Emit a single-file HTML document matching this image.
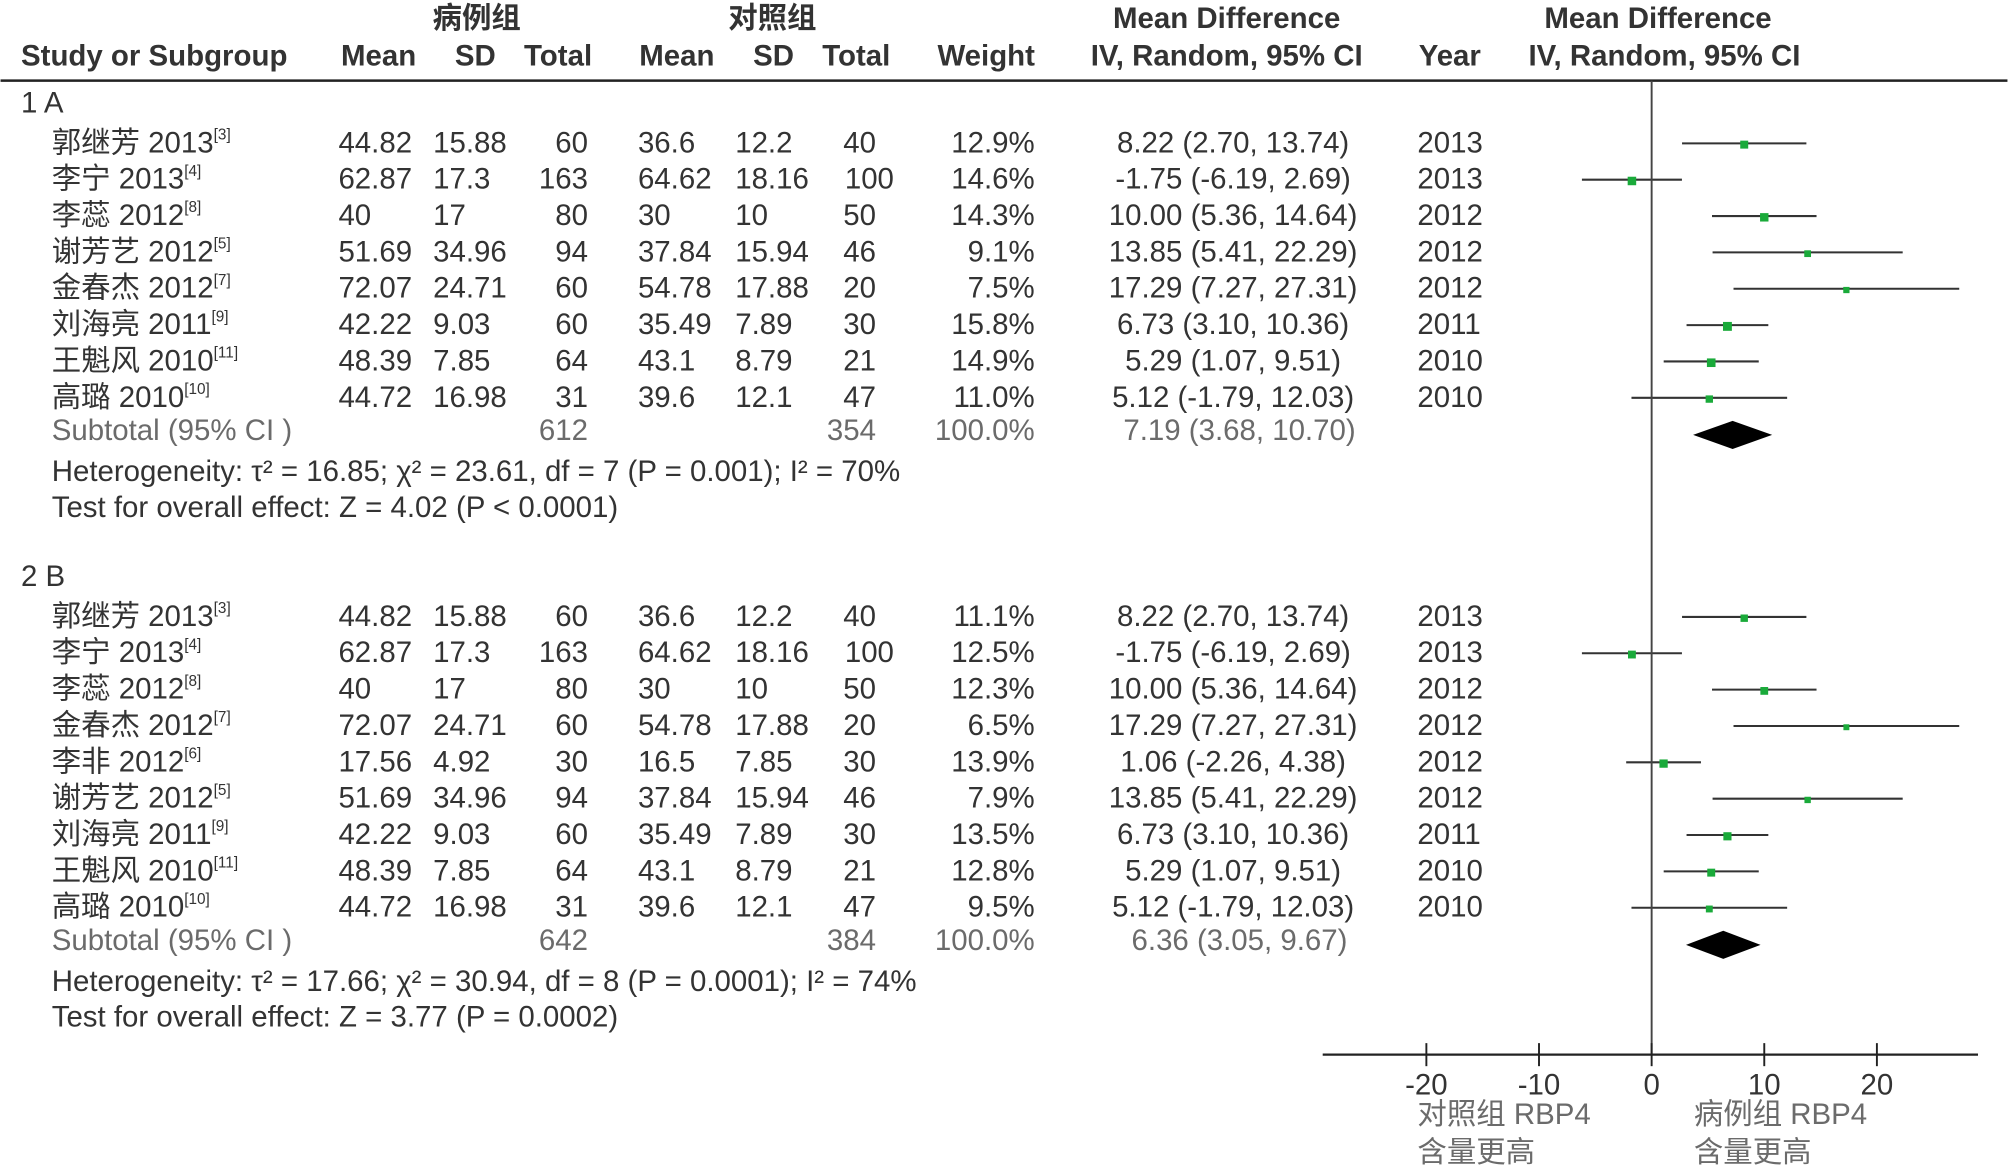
<!DOCTYPE html>
<html><head><meta charset="utf-8">
<style>
html,body{margin:0;padding:0;background:#fff;}
svg{display:block;}
text{font-family:"Liberation Sans Narrow","Liberation Sans","Noto Sans CJK SC",sans-serif;fill:#333;}
.h{font-weight:bold;font-size:23px;}
.r{font-size:23px;}
.g{fill:#6b6b6b;}
</style></head>
<body>
<svg id="chart" width="2008" height="1166" viewBox="0 0 1568 911" xmlns="http://www.w3.org/2000/svg">
<g>
<text class="h" x="372" y="22" text-anchor="middle">病例组</text>
<text class="h" x="603" y="22" text-anchor="middle">对照组</text>
<text class="h" x="958" y="22" text-anchor="middle">Mean Difference</text>
<text class="h" x="1295" y="22" text-anchor="middle">Mean Difference</text>
<text class="h" x="16" y="51">Study or Subgroup</text>
<text class="h" x="266" y="51">Mean</text>
<text class="h" x="355" y="51">SD</text>
<text class="h" x="409" y="51">Total</text>
<text class="h" x="499" y="51">Mean</text>
<text class="h" x="588" y="51">SD</text>
<text class="h" x="642" y="51">Total</text>
<text class="h" x="732" y="51">Weight</text>
<text class="h" x="958" y="51" text-anchor="middle">IV, Random, 95% CI</text>
<text class="h" x="1108" y="51">Year</text>
<text class="h" x="1300" y="51" text-anchor="middle">IV, Random, 95% CI</text>
</g>
<line x1="0" y1="63" x2="1568" y2="63" stroke="#222" stroke-width="2"/>
<g id="rows"></g>
<g id="plot"></g>
</svg>
<script>
const namesA=["郭继芳 2013","李宁 2013","李蕊 2012","谢芳艺 2012","金春杰 2012","刘海亮 2011","王魁风 2010","高璐 2010"];
const refsA=["[3]","[4]","[8]","[5]","[7]","[9]","[11]","[10]"];
const mean1A=["44.82","62.87","40","51.69","72.07","42.22","48.39","44.72"];
const sd1A=["15.88","17.3","17","34.96","24.71","9.03","7.85","16.98"];
const n1A=["60","163","80","94","60","60","64","31"];
const mean2A=["36.6","64.62","30","37.84","54.78","35.49","43.1","39.6"];
const sd2A=["12.2","18.16","10","15.94","17.88","7.89","8.79","12.1"];
const n2A=["40","100","50","46","20","30","21","47"];
const weightA=[12.9,14.6,14.3,9.1,7.5,15.8,14.9,11.0];
const mdA=[8.22,-1.75,10.00,13.85,17.29,6.73,5.29,5.12];
const loA=[2.70,-6.19,5.36,5.41,7.27,3.10,1.07,-1.79];
const hiA=[13.74,2.69,14.64,22.29,27.31,10.36,9.51,12.03];
const yearA=["2013","2013","2012","2012","2012","2011","2010","2010"];
const subA={n1:"612",n2:"354",md:7.19,lo:3.68,hi:10.70};

const namesB=["郭继芳 2013","李宁 2013","李蕊 2012","金春杰 2012","李非 2012","谢芳艺 2012","刘海亮 2011","王魁风 2010","高璐 2010"];
const refsB=["[3]","[4]","[8]","[7]","[6]","[5]","[9]","[11]","[10]"];
const mean1B=["44.82","62.87","40","72.07","17.56","51.69","42.22","48.39","44.72"];
const sd1B=["15.88","17.3","17","24.71","4.92","34.96","9.03","7.85","16.98"];
const n1B=["60","163","80","60","30","94","60","64","31"];
const mean2B=["36.6","64.62","30","54.78","16.5","37.84","35.49","43.1","39.6"];
const sd2B=["12.2","18.16","10","17.88","7.85","15.94","7.89","8.79","12.1"];
const n2B=["40","100","50","20","30","46","30","21","47"];
const weightB=[11.1,12.5,12.3,6.5,13.9,7.9,13.5,12.8,9.5];
const mdB=[8.22,-1.75,10.00,17.29,1.06,13.85,6.73,5.29,5.12];
const loB=[2.70,-6.19,5.36,7.27,-2.26,5.41,3.10,1.07,-1.79];
const hiB=[13.74,2.69,14.64,27.31,4.38,22.29,10.36,9.51,12.03];
const yearB=["2013","2013","2012","2012","2012","2012","2011","2010","2010"];
const subB={n1:"642",n2:"384",md:6.36,lo:3.05,hi:9.67};

const ticks=[-20,-10,0,10,20];
const tickLabels=["-20","-10","0","10","20"];

const NS="http://www.w3.org/2000/svg";
const rows=document.getElementById('rows'), plot=document.getElementById('plot');
const xs=v=>1290+v*8.8;
function mk(tag,attrs,parent){const e=document.createElementNS(NS,tag);for(const k in attrs)e.setAttribute(k,attrs[k]);parent.appendChild(e);return e;}
function txt(s,x,y,anchor,cls,parent,name){const t=mk('text',{x:x,y:y,'text-anchor':anchor,'class':cls},parent);t.textContent=s;


return t;}
const f2=v=>v.toFixed(2);

function group(label,y0,names,refs,m1,s1,n1,m2,s2,n2,w,md,lo,hi,yr,sub,het,test){
  txt(label,16,y0,'start','r',rows,'subgroup-label');
  let y=y0;
  for(let i=0;i<names.length;i++){
    y=y0+31+i*28.4;
    const t=txt(names[i],40,y,'start','r',rows,'study-name');
    const sp=document.createElementNS(NS,'tspan');sp.setAttribute('font-size','12');sp.setAttribute('dy','-10');sp.textContent=refs[i];t.appendChild(sp);
    txt(m1[i],264,y,'start','r',rows,'case-mean');
    txt(s1[i],338,y,'start','r',rows,'case-sd');
    txt(n1[i],459,y,'end','r',rows,'case-total');
    txt(m2[i],498,y,'start','r',rows,'control-mean');
    txt(s2[i],574,y,'start','r',rows,'control-sd');
    txt(n2[i],n2[i].length>2?698:684,y,'end','r',rows,'control-total');
    txt(w[i].toFixed(1)+'%',808,y,'end','r',rows,'weight');
    txt(f2(md[i])+' ('+f2(lo[i])+', '+f2(hi[i])+')',963,y,'middle','r',rows,'ci-text');
    txt(yr[i],1107,y,'start','r',rows,'year');
    const cy=y-7;
    const l=mk('line',{x1:xs(lo[i]),x2:xs(hi[i]),y1:cy,y2:cy,stroke:'#333','stroke-width':1.6},plot);
    
    
    const sz=3+w[i]*0.25;
    const r=mk('rect',{x:xs(md[i])-sz/2,y:cy-sz/2+1,width:sz,height:sz,fill:'#1aaa3a'},plot);
    
    
  }
  const ys=y+26;
  txt('Subtotal (95% CI )',40,ys,'start','r g',rows,'subtotal-label');
  txt(sub.n1,459,ys,'end','r g',rows,'subtotal-case-total');
  txt(sub.n2,684,ys,'end','r g',rows,'subtotal-control-total');
  txt('100.0%',808,ys,'end','r g',rows,'subtotal-weight');
  txt(f2(sub.md)+' ('+f2(sub.lo)+', '+f2(sub.hi)+')',968,ys,'middle','r g',rows,'subtotal-ci');
  const dy=ys-4;
  const d=mk('polygon',{points:`${xs(sub.lo)},${dy} ${xs(sub.md)},${dy-11} ${xs(sub.hi)},${dy} ${xs(sub.md)},${dy+11}`,fill:'#000'},plot);
  
  
  txt(het,40,ys+32,'start','r',rows,'heterogeneity-text');
  txt(test,40,ys+60,'start','r',rows,'overall-effect-text');
}
group('1 A',88,namesA,refsA,mean1A,sd1A,n1A,mean2A,sd2A,n2A,weightA,mdA,loA,hiA,yearA,subA,
 'Heterogeneity: τ² = 16.85; χ² = 23.61, df = 7 (P = 0.001); I² = 70%','Test for overall effect: Z = 4.02 (P < 0.0001)');
group('2 B',458,namesB,refsB,mean1B,sd1B,n1B,mean2B,sd2B,n2B,weightB,mdB,loB,hiB,yearB,subB,
 'Heterogeneity: τ² = 17.66; χ² = 30.94, df = 8 (P = 0.0001); I² = 74%','Test for overall effect: Z = 3.77 (P = 0.0002)');

// axes
let e=mk('line',{x1:xs(0),x2:xs(0),y1:63,y2:824,stroke:'#444','stroke-width':1.5},plot);


e=mk('line',{x1:1033,x2:1545,y1:824,y2:824,stroke:'#222','stroke-width':1.8},plot);


ticks.forEach((t,i)=>{
  const tk=mk('line',{x1:xs(t),x2:xs(t),y1:815,y2:833,stroke:'#222','stroke-width':1.5},plot);
  
  
  txt(tickLabels[i],xs(t),855,'middle','r',plot,'x-tick-label');
});
txt('对照组 RBP4',1107,878,'start','r g',plot,'favours-control-label');
txt('含量更高',1107,908,'start','r g',plot,'favours-control-label-2');
txt('病例组 RBP4',1323,878,'start','r g',plot,'favours-case-label');
txt('含量更高',1323,908,'start','r g',plot,'favours-case-label-2');
</script>
</body></html>
